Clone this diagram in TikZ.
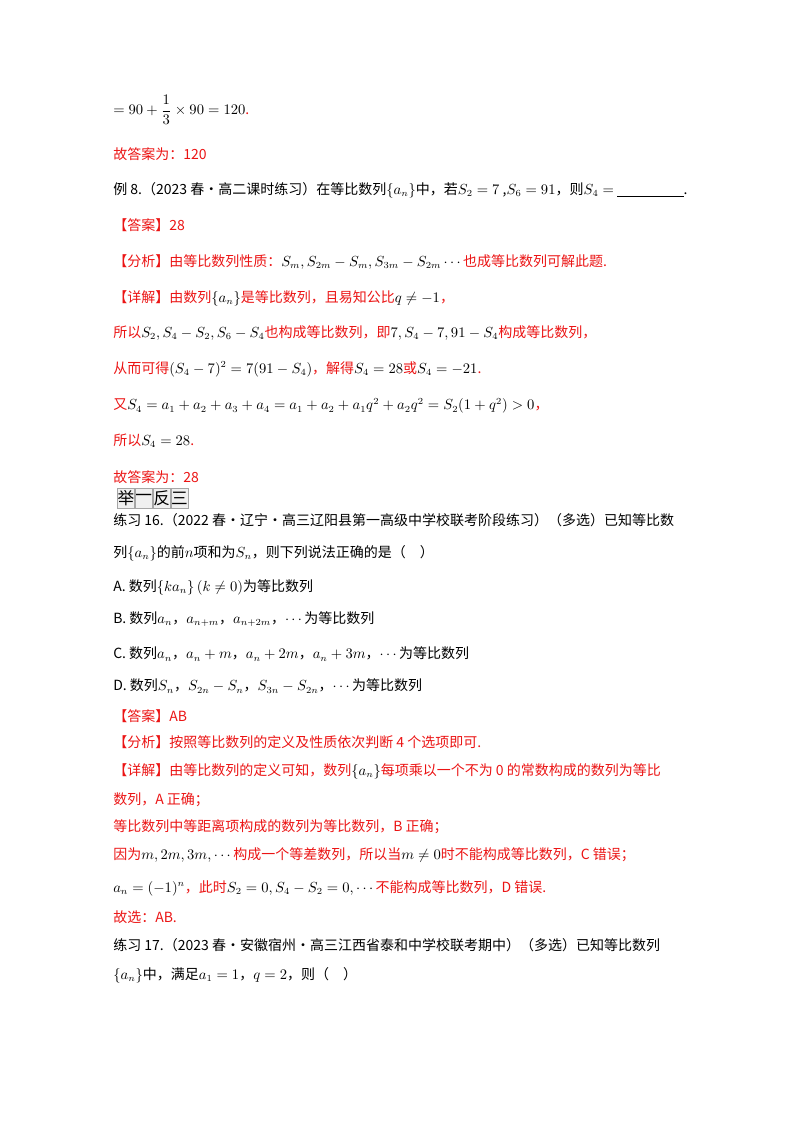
\documentclass[tikz,border=0pt]{standalone}
\usepackage{amsmath,amssymb}
\usepackage{fontspec}
\usetikzlibrary{positioning}
\setmainfont{Noto Sans CJK SC}
\definecolor{ans}{RGB}{235,20,20}
\tikzset{ln/.style={anchor=west,inner sep=0pt,font=\fontsize{10.5}{12}\selectfont},
 rd/.style={ln,text=ans},
 cell/.style={draw=gray!70,fill=gray!12,minimum width=13pt,minimum height=15pt,inner sep=0pt,font=\fontsize{12.5}{14}\selectfont}}
\begin{document}
\begin{tikzpicture}[x=0.75pt,y=-0.75pt]
\useasboundingbox (0,0) rectangle (800,1132);
\node[ln] (l1) at (113,110) {$=90+\dfrac{1}{3}\times 90=120$\textcolor{ans}{.}};
\node[rd] (l2) at (113,154) {故答案为：120};
\node[ln] (l3) at (113,190) {例 8.（2023 春·高二课时练习）在等比数列$\{a_n\}$中，若$S_2=7$ ,$S_6=91$，则$S_4=$ \underline{\hspace{50pt}}.};
\node[rd] (l4) at (113,225) {【答案】28};
\node[rd] (l5) at (113,262) {【分析】由等比数列性质：\textcolor{black}{$S_m,S_{2m}-S_m,S_{3m}-S_{2m}\cdots$}也成等比数列可解此题.};
\node[rd] (l6) at (113,298) {【详解】由数列\textcolor{black}{$\{a_n\}$}是等比数列，且易知公比\textcolor{black}{$q\neq-1$}，};
\node[rd] (l7) at (113,333) {所以\textcolor{black}{$S_2,S_4-S_2,S_6-S_4$}也构成等比数列，即\textcolor{black}{$7,S_4-7,91-S_4$}构成等比数列，};
\node[rd] (l8) at (113,369) {从而可得\textcolor{black}{$(S_4-7)^2=7(91-S_4)$}，解得\textcolor{black}{$S_4=28$}或\textcolor{black}{$S_4=-21$}.};
\node[rd] (l9) at (113,406) {又\textcolor{black}{$S_4=a_1+a_2+a_3+a_4=a_1+a_2+a_1q^2+a_2q^2=S_2(1+q^2)>0$}，};
\node[rd] (l10) at (113,441) {所以\textcolor{black}{$S_4=28$}.};
\node[rd] (l11) at (113,477) {故答案为：28};
\node[cell,anchor=west] (c1) at (117,498) {举};
\node[cell,right=0pt of c1] (c2) {一};
\node[cell,right=0pt of c2] (c3) {反};
\node[cell,right=0pt of c3] (c4) {三};
\node[ln] (l12) at (113,520) {练习 16.（2022 春·辽宁·高三辽阳县第一高级中学校联考阶段练习）（多选）已知等比数};
\node[ln] (l13) at (113,553) {列$\{a_n\}$的前$n$项和为$S_n$，则下列说法正确的是（\quad）};
\node[ln] (l14) at (113,587) {A. 数列$\{ka_n\}\,(k\neq0)$为等比数列};
\node[ln] (l15) at (113,619) {B. 数列$a_n$，$a_{n+m}$，$a_{n+2m}$，$\cdots$为等比数列};
\node[ln] (l16) at (113,654) {C. 数列$a_n$，$a_n+m$，$a_n+2m$，$a_n+3m$，$\cdots$为等比数列};
\node[ln] (l17) at (113,686) {D. 数列$S_n$，$S_{2n}-S_n$，$S_{3n}-S_{2n}$，$\cdots$为等比数列};
\node[rd] (l18) at (113,716) {【答案】AB};
\node[rd] (l19) at (113,742) {【分析】按照等比数列的定义及性质依次判断 4 个选项即可.};
\node[rd] (l20) at (113,771) {【详解】由等比数列的定义可知，数列\textcolor{black}{$\{a_n\}$}每项乘以一个不为 0 的常数构成的数列为等比};
\node[rd] (l21) at (113,800) {数列，A 正确；};
\node[rd] (l22) at (113,827) {等比数列中等距离项构成的数列为等比数列，B 正确；};
\node[rd] (l23) at (113,855) {因为\textcolor{black}{$m,2m,3m,\cdots$}构成一个等差数列，所以当\textcolor{black}{$m\neq0$}时不能构成等比数列，C 错误；};
\node[rd] (l24) at (113,888) {\textcolor{black}{$a_n=(-1)^n$}，此时\textcolor{black}{$S_2=0,S_4-S_2=0,\cdots$}不能构成等比数列，D 错误.};
\node[rd] (l25) at (113,917) {故选：AB.};
\node[ln] (l26) at (113,945) {练习 17.（2023 春·安徽宿州·高三江西省泰和中学校联考期中）（多选）已知等比数列};
\node[ln] (l27) at (113,975) {$\{a_n\}$中，满足$a_1=1$，$q=2$，则（\quad）};
\end{tikzpicture}
\end{document}
